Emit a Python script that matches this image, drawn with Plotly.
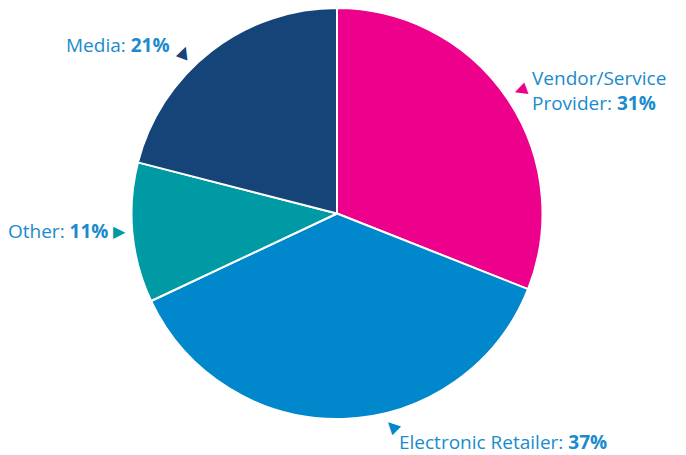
import plotly.graph_objects as go

categories = ["Vendor/Service<br>Provider", "Electronic Retailer", "Other", "Media"]
values = [31, 37, 11, 21]
colors = ["#EC008C", "#0087CC", "#009AA5", "#154478"]

W, H = 686, 455
fig = go.Figure(go.Pie(
    labels=categories, values=values, sort=False, direction="clockwise",
    rotation=0, marker=dict(colors=colors, line=dict(color="white", width=2)),
    textinfo="none", hoverinfo="label+percent", showlegend=False,
    domain=dict(x=[131/W, 543/W], y=[1-419/H, 1-8/H]),
))

txt_color = "#1A8BCB"
font = dict(family="Open Sans, Lato, sans-serif", size=19, color=txt_color)
# (text px x, px y, anchor, triangle px x, px y, triangle angle)
label_pos = [
    (530, 91, "left", 521, 91, 160),
    (397, 442, "left", 391, 428, -135),
    (110, 231, "right", 119, 231, 0),
    (172, 45, "right", 182, 52, -70),
]
for cat, v, col, (tx, ty, anc, ax, ay, ang) in zip(categories, values, colors, label_pos):
    fig.add_annotation(x=tx/W, y=1-ty/H, xref="paper", yref="paper",
                       text=f"{cat}: <b>{v}%</b>", showarrow=False,
                       xanchor=anc, yanchor="middle", align="left", font=font)
    fig.add_annotation(x=ax/W, y=1-ay/H, xref="paper", yref="paper",
                       text="▶", showarrow=False, textangle=ang,
                       xanchor="center", yanchor="middle",
                       font=dict(family="DejaVu Sans", size=16, color=col))

fig.update_layout(width=W, height=H, margin=dict(l=0, r=0, t=0, b=0),
                  paper_bgcolor="white", plot_bgcolor="white")
fig.write_html("out.html", config={"displayModeBar": False},
               post_script="document.body.style.margin='0';")
